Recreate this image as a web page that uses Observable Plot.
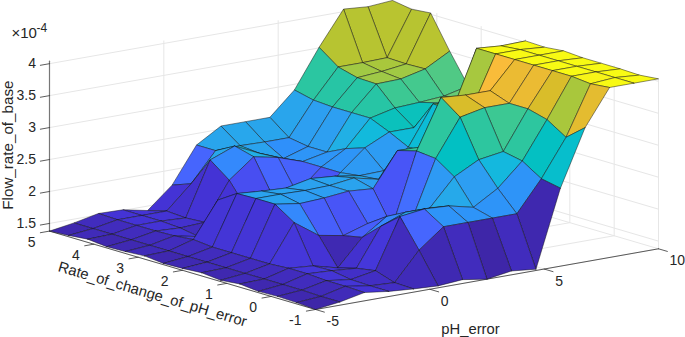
<!DOCTYPE html>
<html><head><meta charset="utf-8">
<style>html,body{margin:0;padding:0;background:#fff}svg{display:block}</style>
<script src="https://cdn.jsdelivr.net/npm/d3@7"></script>
<script src="https://cdn.jsdelivr.net/npm/@observablehq/plot@0.6"></script>
</head><body><div id="chart"></div>
<script>
// pH_error samples, Rate_of_change_of_pH_error samples
const pHError = [-5,-3.93,-2.86,-1.79,-0.71,0.36,1.43,2.5,3.57,4.64,5.71,6.79,7.86,8.93,10];
const rateOfChange = [-1,-0.57,-0.14,0.29,0.71,1.14,1.57,2,2.43,2.86,3.29,3.71,4.14,4.57,5];
// Flow_rate_of_base (x 1e-4): one row per rate, one column per pH error
const r00=[1.38,1.43,1.51,1.46,1.43,1.41,1.44,1.38,1.44,1.40,2.60,3.48,4.04,4.04,4.04];
const r01=[1.40,1.43,1.52,1.46,1.44,1.88,2.18,2.18,2.18,2.18,2.66,3.24,4.01,4.04,4.01];
const r02=[1.41,1.44,1.52,1.47,1.54,2.32,2.37,2.35,2.26,2.49,2.85,3.43,4.04,4.04,4.02];
const r03=[1.40,1.44,1.54,1.52,1.49,2.08,2.23,2.23,2.65,2.85,2.91,3.51,4.04,4.04,4.02];
const r04=[1.43,1.44,1.54,1.51,1.41,1.82,2.08,1.93,2.85,3.43,3.51,3.51,4.04,4.04,4.02];
const r05=[1.40,1.44,1.52,2.10,1.83,1.76,1.88,1.76,2.88,3.65,3.62,3.62,4.04,4.04,4.04];
const r06=[1.43,1.44,1.52,2.30,2.24,2.26,2.30,2.27,2.80,2.79,2.95,3.23,4.04,4.04,4.01];
const r07=[1.41,1.44,1.52,2.30,2.30,2.29,2.30,2.35,2.26,2.48,2.55,3.13,4.04,4.01,4.02];
const r08=[1.40,1.44,1.52,2.29,2.26,2.24,2.32,2.29,2.23,2.24,2.54,3.15,3.10,3.10,3.10];
const r09=[1.43,1.44,1.55,2.10,1.69,1.85,1.85,1.76,2.19,2.51,2.69,2.69,3.01,3.02,3.02];
const r10=[1.41,1.44,1.52,1.44,1.51,1.71,1.88,1.85,2.19,2.41,2.82,2.91,2.93,2.96,3.05];
const r11=[1.40,1.44,1.51,1.49,1.51,2.10,2.40,2.32,2.19,2.27,2.82,3.20,3.21,3.30,3.51];
const r12=[1.43,1.44,1.51,1.51,1.49,2.33,2.48,2.30,2.15,2.27,2.82,3.21,3.24,3.29,4.02];
const r13=[1.40,1.44,1.51,1.51,1.51,1.87,2.32,2.33,2.32,2.32,2.84,3.29,3.29,3.30,3.99];
const r14=[1.38,1.44,1.52,1.51,1.43,1.76,2.32,2.55,2.55,2.55,2.91,3.51,4.04,4.01,4.04];
const flow=[r00,r01,r02,r03,r04,r05,r06,r07,r08,r09,r10,r11,r12,r13,r14];
const xTicks=[-5,0,5,10], yTicks=[-1,0,1,2,3,4,5], zTicks=[1.5,2,2.5,3,3.5,4];
const xMin=-5,xMax=10,yMin=-1,yMax=5,zMin=1.38,zMax=4.04;
const parula=["#3e26a8","#4433d4","#4743e9","#4855f7","#4667fe","#3e7cff","#2f8ffb","#2d9ff1","#23aee6","#10bbdb","#01c0c4","#1dc4ae","#38c896","#6acb73","#92cc53","#b4c532","#d4be27","#f0ba36","#fdbd3c","#fbcc30","#f4df25","#f8fa14"];
const parulaDomain=parula.map((_,k)=>zMin+(zMax-zMin)*k/(parula.length-1));

// orthographic view of the box (MATLAB-style 3-D axes)
const O={u:315,v:309},ex={u:343,v:-60.7},ey={u:-266,v:-78.4},zs=63.9;
const px=(x,y)=>O.u+(x-xMin)/(xMax-xMin)*ex.u+(y-yMin)/(yMax-yMin)*ey.u;
const py=(x,y,z)=>O.v+(x-xMin)/(xMax-xMin)*ex.v+(y-yMin)/(yMax-yMin)*ey.v-(z-zMin)*zs;
const pt=(x,y,z,extra)=>({u:px(x,y),v:py(x,y,z),...extra});

// faces, far to near so nearer ones paint over
const faces=[];let id=0;
for(let i=pHError.length-2;i>=0;i--)for(let j=rateOfChange.length-2;j>=0;j--){
  const c=flow[j][i];id++;
  for(const [a,b] of [[i,j],[i+1,j],[i+1,j+1],[i,j+1],[i,j]])
    faces.push(pt(pHError[a],rateOfChange[b],flow[b][a],{id,c}));
}
// back-wall and floor grid
const grid=[];let g=0;
const seg=(a,b)=>{g++;grid.push(pt(...a,{g}),pt(...b,{g}));};
for(const z of zTicks){seg([xMin,yMax,z],[xMax,yMax,z]);seg([xMax,yMax,z],[xMax,yMin,z]);}
for(const x of xTicks){seg([x,yMax,zMin],[x,yMax,zMax]);seg([x,yMin,zMin],[x,yMax,zMin]);}
for(const y of yTicks){seg([xMax,y,zMin],[xMax,y,zMax]);seg([xMin,y,zMin],[xMax,y,zMin]);}
// axis rulers
const rulers=[];let r=0;
const rseg=(a,b)=>{r++;rulers.push(pt(...a,{r}),pt(...b,{r}));};
rseg([xMin,yMin,zMin],[xMax,yMin,zMin]);rseg([xMin,yMin,zMin],[xMin,yMax,zMin]);
for(const x of xTicks)rseg([x,yMin,zMin],[x,yMin-0.2,zMin]);
for(const y of yTicks)rseg([xMin,y,zMin],[xMin-0.4,y,zMin]);
for(const z of zTicks)rseg([xMin,yMax,z],[xMin-0.4,yMax,z]);
const zAxis=[pt(xMin,yMax,zMin),pt(xMin,yMax,zMax)];

const ink="#262626",font="'Liberation Sans',Arial,sans-serif",fs=14;
const txt=(d,o)=>Plot.text(d,{x:"u",y:"v",text:"t",fill:ink,fontFamily:font,fontSize:fs,stroke:null,...o});
const chart=Plot.plot({
  width:685,height:337,margin:0,
  x:{domain:[0,685],range:[0,685],axis:null},
  y:{domain:[0,337],range:[0,337],axis:null},
  color:{type:"linear",domain:parulaDomain,range:parula},
  style:{background:"#fff",overflow:"hidden"},
  marks:[
    Plot.line(grid,{x:"u",y:"v",z:"g",stroke:"#e6e6e6",strokeWidth:1}),
    Plot.line(zAxis,{x:"u",y:"v",stroke:"#777",strokeWidth:1.2}),
    Plot.line(rulers,{x:"u",y:"v",z:"r",stroke:"#333",strokeWidth:0.8}),
    Plot.line(faces,{x:"u",y:"v",z:"id",fill:"c",stroke:"#111",strokeWidth:0.6,strokeOpacity:0.8,strokeLinejoin:"round"}),
    txt(xTicks.map(x=>pt(x,yMin,zMin,{t:String(x)})),{textAnchor:"start",dx:11,dy:12}),
    txt(yTicks.map(y=>pt(xMin,y,zMin,{t:String(y)})),{textAnchor:"end",dx:-14,dy:11}),
    txt(zTicks.map(z=>pt(xMin,yMax,z,{t:String(z)})),{textAnchor:"end",dx:-13.5,dy:0}),
    txt([pt(xMin,yMax,zMax,{t:"Flow_rate_of_base"})],{dx:-41,dy:84,rotate:-90,fontSize:15.2}),
    txt([pt((xMin+xMax)/2,yMin,zMin,{t:"pH_error"})],{dx:-16.5,dy:50,fontSize:14.8}),
    txt([pt(xMin,(yMin+yMax)/2,zMin,{t:"Rate_of_change_of_pH_error"})],{dx:-30,dy:24,rotate:16.5,fontSize:14.8}),
    txt([pt(xMin,yMax,zMax,{t:"\u00d710"})],{textAnchor:"start",dx:-38,dy:-28,fontSize:15}),
    txt([pt(xMin,yMax,zMax,{t:"-4"})],{textAnchor:"start",dx:-13,dy:-33,fontSize:12})
  ]
});
document.getElementById("chart").append(chart);
</script></body></html>
